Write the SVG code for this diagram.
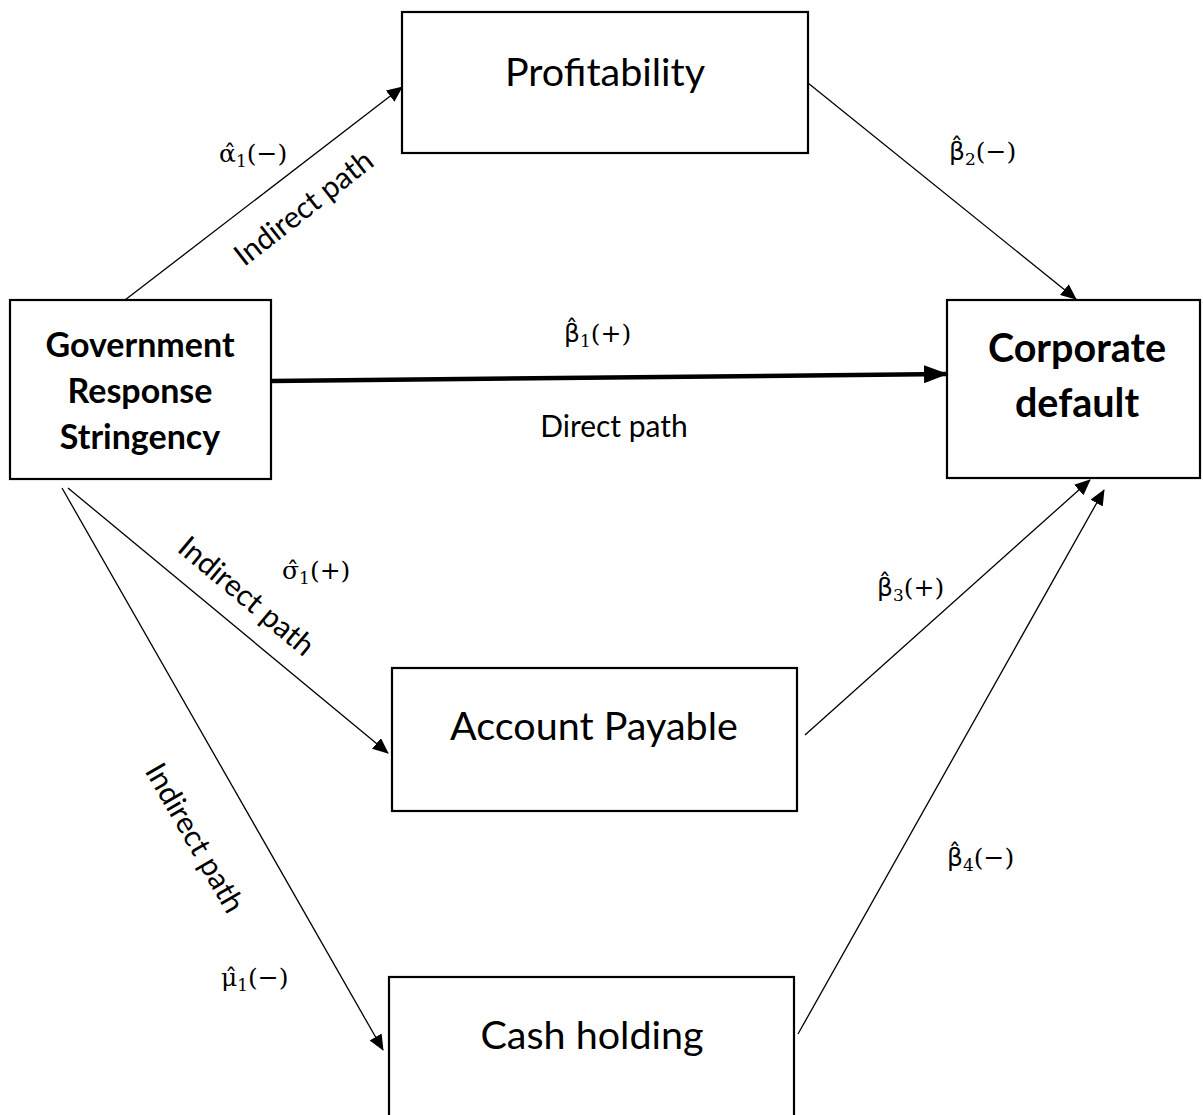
<svg xmlns="http://www.w3.org/2000/svg" width="1203" height="1115" viewBox="0 0 1203 1115">
<style>
.box{fill:#fff;stroke:#000;stroke-width:2.2}
.lbl{font-family:Lato,"Open Sans",sans-serif;fill:#000;text-anchor:middle;font-size:30px}
.node{font-family:Lato,"Open Sans",sans-serif;fill:#000;text-anchor:middle}
.bold{font-weight:bold}
.math{font-family:"DejaVu Serif",serif;font-size:25px;fill:#000}
.beta{font-family:"DejaVu Sans",sans-serif}
.sub{font-size:17px}
.conn{stroke:#000;stroke-width:1.3;fill:none}
.thick{stroke:#000;stroke-width:4.5;fill:none}
</style>
<defs>
<marker id="ah" markerUnits="userSpaceOnUse" markerWidth="16" markerHeight="14" refX="15" refY="7" orient="auto">
<path d="M0,0 L16,7 L0,14 Z" fill="#000"/>
</marker>
<marker id="ahb" markerUnits="userSpaceOnUse" markerWidth="24" markerHeight="18" refX="23" refY="9" orient="auto">
<path d="M0,0 L24,9 L0,18 Z" fill="#000"/>
</marker>
</defs>
<rect width="1203" height="1115" fill="#fff"/>
<g id="connectors">
<line class="conn" x1="125" y1="300" x2="402" y2="87" marker-end="url(#ah)"/>
<line class="conn" x1="808" y1="83" x2="1076" y2="299" marker-end="url(#ah)"/>
<line class="thick" x1="271" y1="381" x2="947" y2="374" marker-end="url(#ahb)"/>
<line class="conn" x1="68" y1="488" x2="388" y2="753" marker-end="url(#ah)"/>
<line class="conn" x1="62" y1="488" x2="383" y2="1050" marker-end="url(#ah)"/>
<line class="conn" x1="805" y1="735" x2="1090" y2="480" marker-end="url(#ah)"/>
<line class="conn" x1="798" y1="1034" x2="1104" y2="490" marker-end="url(#ah)"/>
</g>
<g id="node-profitability">
<rect class="box" x="402" y="12" width="406" height="141"/>
<text class="node" x="605" y="86" font-size="39.5">Profitability</text>
</g>
<g id="node-government">
<rect class="box" x="10" y="300" width="261" height="179"/>
<text class="node bold" x="140" y="357" font-size="34">Government</text>
<text class="node bold" x="140" y="403" font-size="34">Response</text>
<text class="node bold" x="140" y="449" font-size="34">Stringency</text>
</g>
<g id="node-corporate">
<rect class="box" x="947" y="300" width="253" height="178"/>
<text class="node bold" x="1077" y="362" font-size="39.5">Corporate</text>
<text class="node bold" x="1077" y="417" font-size="39.5">default</text>
</g>
<g id="node-account">
<rect class="box" x="392" y="668" width="405" height="143"/>
<text class="node" x="594" y="740" font-size="39.5">Account Payable</text>
</g>
<g id="node-cash">
<rect class="box" x="389" y="977" width="405" height="150"/>
<text class="node" x="592" y="1049" font-size="39.5">Cash holding</text>
</g>
<g id="labels">
<text class="math" x="219" y="162">α̂<tspan class="sub" dy="5">1</tspan><tspan dy="-5">(−)</tspan></text>
<text class="math" x="564" y="342"><tspan class="beta">β̂</tspan><tspan class="sub" dy="5">1</tspan><tspan dy="-5">(+)</tspan></text>
<text class="math" x="949" y="160"><tspan class="beta">β̂</tspan><tspan class="sub" dy="5">2</tspan><tspan dy="-5">(−)</tspan></text>
<text class="math" x="282" y="579">σ̂<tspan class="sub" dy="5">1</tspan><tspan dy="-5">(+)</tspan></text>
<text class="math" x="877" y="596"><tspan class="beta">β̂</tspan><tspan class="sub" dy="5">3</tspan><tspan dy="-5">(+)</tspan></text>
<text class="math" x="221" y="986">μ̂<tspan class="sub" dy="5">1</tspan><tspan dy="-5">(−)</tspan></text>
<text class="math" x="947" y="866"><tspan class="beta">β̂</tspan><tspan class="sub" dy="5">4</tspan><tspan dy="-5">(−)</tspan></text>
<text class="lbl" x="614" y="437">Direct path</text>
<text class="lbl" transform="translate(310,216) rotate(-38)">Indirect path</text>
<text class="lbl" transform="translate(240,604) rotate(40)">Indirect path</text>
<text class="lbl" transform="translate(186,843) rotate(60)">Indirect path</text>
</g>
</svg>
